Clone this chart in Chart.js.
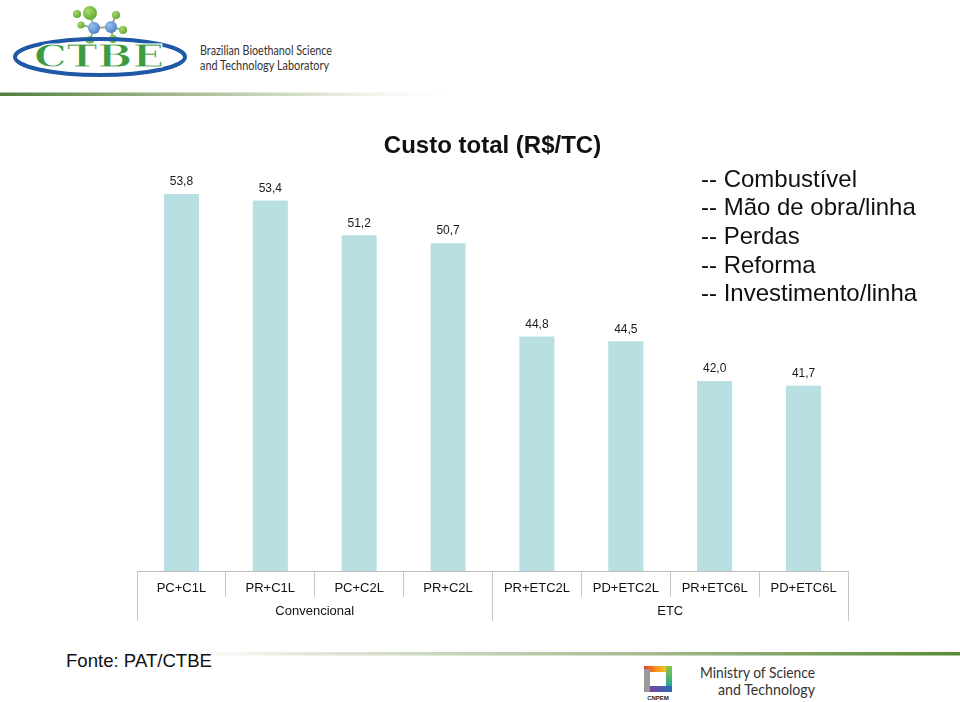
<!DOCTYPE html>
<html>
<head>
<meta charset="utf-8">
<script src="https://cdn.jsdelivr.net/npm/chart.js@4.4.1/dist/chart.umd.min.js"></script>
<style>
html,body{margin:0;padding:0;background:#fff;width:960px;height:702px;overflow:hidden;}
#deco{position:absolute;left:0;top:0;}
#chart{position:absolute;left:0;top:0;}
.legend{position:absolute;left:701px;top:164.5px;font-family:"Liberation Sans",Arial,sans-serif;font-size:24px;line-height:28.7px;color:#111;white-space:nowrap;}
</style>
</head>
<body>
<svg id="deco" width="960" height="702" xmlns="http://www.w3.org/2000/svg">
  <defs>
    <linearGradient id="hl" x1="0" x2="1" y1="0" y2="0">
      <stop offset="0" stop-color="#4f7f3c"/>
      <stop offset="0.35" stop-color="#9fb58a"/>
      <stop offset="0.7" stop-color="#e2e8d8"/>
      <stop offset="1" stop-color="#ffffff" stop-opacity="0"/>
    </linearGradient>
    <linearGradient id="fl" x1="0" x2="1" y1="0" y2="0">
      <stop offset="0" stop-color="#ffffff" stop-opacity="0"/>
      <stop offset="0.2" stop-color="#e4e9dc"/>
      <stop offset="0.6" stop-color="#a9bd94"/>
      <stop offset="1" stop-color="#578a36"/>
    </linearGradient>
    <radialGradient id="gb" cx="0.35" cy="0.35" r="0.7">
      <stop offset="0" stop-color="#a6dc6a"/>
      <stop offset="1" stop-color="#5fa832"/>
    </radialGradient>
    <radialGradient id="bb" cx="0.35" cy="0.35" r="0.7">
      <stop offset="0" stop-color="#9cc3ef"/>
      <stop offset="1" stop-color="#4a7fc4"/>
    </radialGradient>
    <linearGradient id="ct" x1="0" x2="1" y1="0" y2="0"><stop offset="0" stop-color="#e53b2c"/><stop offset="0.5" stop-color="#f7941d"/><stop offset="1" stop-color="#f6d21b"/></linearGradient>
    <linearGradient id="cr" x1="0" x2="0" y1="0" y2="1"><stop offset="0" stop-color="#8cc63f"/><stop offset="1" stop-color="#1fa39a"/></linearGradient>
    <linearGradient id="cb" x1="0" x2="1" y1="0" y2="0"><stop offset="0" stop-color="#7a3f98"/><stop offset="1" stop-color="#2f6db5"/></linearGradient>
  </defs>
  <!-- header logo -->
  <g stroke="#9bb08a" stroke-width="2">
    <line x1="90" y1="13" x2="94" y2="28"/>
    <line x1="94" y1="28" x2="111" y2="27"/>
    <line x1="111" y1="27" x2="116" y2="15"/>
    <line x1="111" y1="27" x2="123" y2="30"/>
    <line x1="94" y1="28" x2="81" y2="25"/>
    <line x1="94" y1="28" x2="90" y2="40"/>
    <line x1="111" y1="27" x2="113" y2="39"/>
  </g>
  <circle cx="90" cy="13" r="7" fill="url(#gb)"/>
  <circle cx="77" cy="14" r="4" fill="url(#gb)"/>
  <circle cx="116" cy="15" r="4" fill="url(#gb)"/>
  <circle cx="123" cy="30" r="4" fill="url(#gb)"/>
  <circle cx="81" cy="25" r="3.5" fill="url(#gb)"/>
  <circle cx="90" cy="40" r="4" fill="url(#gb)"/>
  <circle cx="113" cy="39" r="4" fill="url(#gb)"/>
  <circle cx="94" cy="28" r="6" fill="url(#bb)"/>
  <circle cx="111" cy="27" r="6" fill="url(#bb)"/>
  <ellipse cx="100" cy="57" rx="85" ry="18" fill="none" stroke="#1f58a6" stroke-width="4"/>
  <text x="34" y="67" font-family="DejaVu Serif" font-weight="bold" font-size="31" fill="#3e9a3f" stroke="#ffffff" stroke-width="1" textLength="130" lengthAdjust="spacingAndGlyphs">CTBE</text>
  <text x="200" y="55" font-family="Lato" font-size="13" fill="#333" textLength="132" lengthAdjust="spacingAndGlyphs">Brazilian Bioethanol Science</text>
  <text x="200" y="70" font-family="Lato" font-size="13" fill="#333" textLength="129" lengthAdjust="spacingAndGlyphs">and Technology Laboratory</text>
  <rect x="0" y="92.5" width="470" height="3.5" fill="url(#hl)"/>
  <!-- footer -->
  <rect x="130" y="652" width="830" height="3.5" fill="url(#fl)"/>
  <text x="66" y="667" font-family="Liberation Sans" font-size="19" fill="#111" textLength="146" lengthAdjust="spacingAndGlyphs">Fonte: PAT/CTBE</text>
  <rect x="644" y="666" width="25" height="6" fill="url(#ct)"/>
  <rect x="666" y="666" width="6" height="21" fill="url(#cr)"/>
  <rect x="647" y="686" width="25" height="6" fill="url(#cb)"/>
  <rect x="644" y="669" width="6" height="23" fill="#9a9a9a"/>
  <text x="658" y="700" font-family="Liberation Sans" font-weight="bold" font-size="6" fill="#222" text-anchor="middle">CNPEM</text>
  <text x="815" y="678" font-family="Lato" font-size="15" fill="#333" text-anchor="end" textLength="115" lengthAdjust="spacingAndGlyphs">Ministry of Science</text>
  <text x="815" y="695" font-family="Lato" font-size="15" fill="#333" text-anchor="end" textLength="97" lengthAdjust="spacingAndGlyphs">and Technology</text>
</svg>
<canvas id="chart" width="960" height="702"></canvas>
<div class="legend" id="legend"></div>
<script>
const categories = ['PC+C1L','PR+C1L','PC+C2L','PR+C2L','PR+ETC2L','PD+ETC2L','PR+ETC6L','PD+ETC6L'];
const groups = ['Convencional','ETC'];
const custoTotal = [53.8, 53.4, 51.2, 50.7, 44.8, 44.5, 42.0, 41.7];
const legendItems = ['Combustível','Mão de obra/linha','Perdas','Reforma','Investimento/linha'];
const titleText = 'Custo total (R$/TC)';
const yMin = 30;

document.getElementById('legend').innerHTML = legendItems.map(t => '-- ' + t).join('<br>');

const valueLabels = {
  id: 'valueLabels',
  afterDatasetsDraw(chart) {
    const meta = chart.getDatasetMeta(0);
    const c = chart.ctx;
    c.save();
    c.font = '12px "Liberation Sans", Arial, sans-serif';
    c.fillStyle = '#1a1a1a';
    c.textAlign = 'center';
    c.textBaseline = 'middle';
    meta.data.forEach((bar, i) => {
      const v = chart.data.datasets[0].data[i];
      c.fillText(v.toFixed(1).replace('.', ','), bar.x, bar.y - 12);
    });
    c.restore();
  }
};

const font = {family: '"Liberation Sans", Arial, sans-serif', size: 13};

new Chart(document.getElementById('chart'), {
  type: 'bar',
  data: {
    labels: categories,
    datasets: [{
      data: custoTotal,
      backgroundColor: '#b8dfe2',
      borderWidth: 0,
      categoryPercentage: 1,
      barPercentage: 0.394
    }]
  },
  options: {
    responsive: false,
    animation: false,
    devicePixelRatio: 1,
    layout: {padding: {left: 137, right: 112, top: 132, bottom: 131}},
    plugins: {
      legend: {display: false},
      tooltip: {enabled: false},
      title: {
        display: true,
        text: titleText,
        color: '#111',
        font: {family: '"Liberation Sans", Arial, sans-serif', size: 24, weight: 'bold'},
        padding: {top: 0, bottom: 0}
      }
    },
    scales: {
      y: {display: false, min: yMin, max: 55.9},
      x: {
        position: {y: yMin},
        grid: {offset: true, drawOnChartArea: false, drawTicks: true, tickLength: 25, color: '#c6c6c6', lineWidth: 1},
        border: {display: true, color: '#bdbdbd', width: 1},
        ticks: {font: font, color: '#111', padding: -15.8, maxRotation: 0, autoSkip: false}
      },
      x2: {
        type: 'category',
        labels: groups,
        position: {y: yMin},
        offset: true,
        grid: {offset: true, drawOnChartArea: false, drawTicks: true, tickLength: 50, color: '#c6c6c6', lineWidth: 1},
        border: {display: false},
        ticks: {font: font, color: '#111', padding: -17.8, maxRotation: 0, autoSkip: false}
      }
    }
  },
  plugins: [valueLabels]
});
</script>
</body>
</html>
